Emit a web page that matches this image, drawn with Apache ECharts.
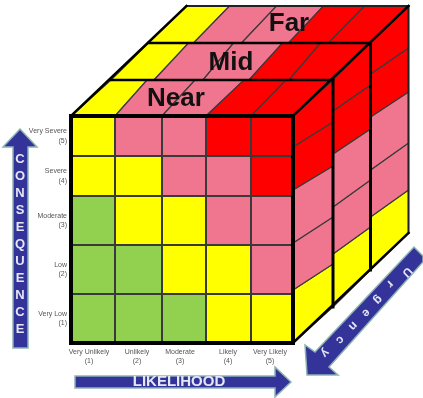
<!DOCTYPE html>
<html>
<head>
<meta charset="utf-8">
<style>html,body{margin:0;padding:0;background:#fff}#chart{width:423px;height:398px}</style>
<script src="https://cdn.jsdelivr.net/npm/echarts@6/dist/echarts.min.js"></script>
</head>
<body>
<div id="chart"></div>
<script>
// Three-layer risk cube: likelihood x consequence x urgency.
const likelihoodLabels = ['Very Unlikely\n(1)', 'Unlikely\n(2)', 'Moderate\n(3)', 'Likely\n(4)', 'Very Likely\n(5)'];
const consequenceLabels = ['Very Low\n(1)', 'Low\n(2)', 'Moderate\n(3)', 'Severe\n(4)', 'Very Severe\n(5)'];
const urgencyLayers = ['Near', 'Mid', 'Far'];

// Risk levels: 0 low, 1 medium, 2 high, 3 extreme.
const frontLevels = [          // rows run from Very Low up to Very Severe
  [0, 0, 0, 1, 1],
  [0, 0, 1, 1, 2],
  [0, 1, 1, 2, 2],
  [1, 1, 2, 2, 3],
  [1, 2, 2, 3, 3]
];
const topLevels = [1, 2, 2, 3, 3];   // Very Severe row, seen along each urgency layer
const sideLevels = [1, 2, 2, 3, 3];  // Very Likely column, seen along each urgency layer

const levelColors = ['#92D050', '#FFFF00', '#F0758F', '#FF0000'];

// Widths of the bands on each face. Every slab tapers a little towards its far end.
const colBands = [44, 47, 44, 45, 42];
const rowBands = [49, 49, 49, 40, 40];
const sideNearBands = [53, 47, 53, 43, 31];
const sideFarBands = [43, 47, 51, 44, 42];
const topNearBands = [[44, 47, 44, 45, 42], [43, 49, 46, 40, 44], [45, 48, 47, 40, 42]];
const topFarBands = [[36, 48, 49, 42, 47], [40, 45, 49, 38, 50], [43, 47, 47, 41, 44]];

const edgesOf = bands => bands.reduce((acc, b) => (acc.push(acc[acc.length - 1] + b), acc), [0]);
const colEdges = edgesOf(colBands);
const rowEdges = edgesOf(rowBands);
const sideNear = edgesOf(sideNearBands);
const sideFar = edgesOf(sideFarBands);
const topNear = topNearBands.map(edgesOf);
const topFar = topFarBands.map(edgesOf);
const xMax = colEdges[colEdges.length - 1];
const yMax = rowEdges[rowEdges.length - 1];

// Where the tick labels sit on each axis.
const likelihoodTicks = [18, 66, 109, 157, 199];
const consequenceTicks = [24.5, 73.5, 122.5, 167, 207];

// Screen offset of each slab boundary away from the front face.
const layerOffsets = [[0, 0], [40, -36], [77.5, -73], [115.5, -110]];
const layerCount = urgencyLayers.length;
const shifted = (p, k) => [p[0] + layerOffsets[k][0], p[1] + layerOffsets[k][1]];

const frontData = [];
frontLevels.forEach((row, r) => row.forEach((lvl, c) => frontData.push([c, r, lvl])));
const topData = [];
const sideData = [];
urgencyLayers.forEach((_, k) => {
  topLevels.forEach((lvl, c) => topData.push([c, k, lvl]));
  sideLevels.forEach((lvl, r) => sideData.push([r, k, lvl]));
});

const cell = (points, lvl) => ({
  type: 'polygon',
  shape: { points },
  style: { fill: levelColors[lvl], stroke: '#3a3a3a', lineWidth: 1.2, lineJoin: 'miter' }
});

function renderFront(params, api) {
  const c = api.value(0), r = api.value(1);
  const pts = [[colEdges[c], rowEdges[r]], [colEdges[c + 1], rowEdges[r]], [colEdges[c + 1], rowEdges[r + 1]], [colEdges[c], rowEdges[r + 1]]]
    .map(p => api.coord(p));
  const shape = cell(pts, api.value(2));
  shape.style.lineWidth = 2;
  return shape;
}

function renderTop(params, api) {
  const c = api.value(0), k = api.value(1);
  const nearA = shifted(api.coord([topNear[k][c], yMax]), k);
  const nearB = shifted(api.coord([topNear[k][c + 1], yMax]), k);
  const farB = shifted(api.coord([topFar[k][c + 1], yMax]), k + 1);
  const farA = shifted(api.coord([topFar[k][c], yMax]), k + 1);
  return cell([nearA, nearB, farB, farA], api.value(2));
}

function renderSide(params, api) {
  const r = api.value(0), k = api.value(1);
  const nearA = shifted(api.coord([xMax, sideNear[r]]), k);
  const farA = shifted(api.coord([xMax, sideFar[r]]), k + 1);
  const farB = shifted(api.coord([xMax, sideFar[r + 1]]), k + 1);
  const nearB = shifted(api.coord([xMax, sideNear[r + 1]]), k);
  return cell([nearA, farA, farB, nearB], api.value(2));
}

function renderFrame(params, api) {
  const lb = api.coord([0, 0]), rb = api.coord([xMax, 0]), rt = api.coord([xMax, yMax]), lt = api.coord([0, yMax]);
  const seg = (p, q, w, color) => ({
    type: 'line',
    shape: { x1: p[0], y1: p[1], x2: q[0], y2: q[1] },
    style: { stroke: color || '#000', lineWidth: w, lineCap: 'square' }
  });
  const children = [];
  for (let k = 1; k <= layerCount; k++) {
    const back = k === layerCount;
    children.push(seg(shifted(lt, k), shifted(rt, k), back ? 2 : 2.5, back ? '#222' : '#000'));
    children.push(seg(shifted(rt, k), shifted(rb, k), back ? 2 : 3, back ? '#222' : '#000'));
  }
  children.push(seg(lt, shifted(lt, layerCount), 2.5));
  children.push(seg(rt, shifted(rt, layerCount), 2.5));
  children.push(seg(rb, shifted(rb, layerCount), 2.5));
  children.push({
    type: 'rect',
    shape: { x: lt[0], y: lt[1], width: rt[0] - lt[0], height: lb[1] - lt[1] },
    style: { fill: 'none', stroke: '#000', lineWidth: 4 }
  });
  return { type: 'group', children };
}

// Block arrows that name the three axes of the cube.
const arrowFill = '#333399';
const arrowEdge = '#8FB3B3';
const arrowText = '#E4E7F4';
const arrow = points => ({
  type: 'polygon',
  shape: { points },
  style: { fill: arrowFill, stroke: arrowEdge, lineWidth: 1.5 },
  z: 20
});

const urgencyWord = 'Urgency';
const urgencyAnchors = [[407, 272], [390, 284], [378, 300], [366, 313], [353, 326], [340, 340], [325, 353]];

const graphics = [
  arrow([[20, 129], [37, 147], [28, 147], [28, 348], [13, 348], [13, 147], [3, 147]]),
  { type: 'text', x: 20, y: 244, z: 21, style: {
    text: 'CONSEQUENCE'.split('').join('\n'), fill: arrowText, font: 'bold 13px "Liberation Sans"',
    lineHeight: 17, align: 'center', verticalAlign: 'middle'
  } },
  arrow([[75, 376], [275, 376], [275, 367], [291, 382], [275, 397], [275, 388], [75, 388]]),
  { type: 'text', x: 179, y: 382, z: 21, style: {
    text: 'LIKELIHOOD', fill: arrowText, font: 'bold 15px "Liberation Sans"',
    align: 'center', verticalAlign: 'middle'
  } },
  arrow([[307, 375], [305, 345], [315, 352], [414, 247], [423, 256], [423, 262], [329, 367], [338, 375]])
];
urgencyWord.split('').forEach((ch, i) => {
  graphics.push({
    type: 'text', x: urgencyAnchors[i][0], y: urgencyAnchors[i][1], rotation: -Math.PI * 0.75, z: 21,
    style: { text: ch, fill: arrowText, font: 'bold 12px "Liberation Sans"', align: 'center', verticalAlign: 'middle' }
  });
});
const layerTitlePositions = [[176, 99], [231, 63], [289, 24]];
urgencyLayers.forEach((name, k) => {
  graphics.push({
    type: 'text', x: layerTitlePositions[k][0], y: layerTitlePositions[k][1], z: 21,
    style: { text: name, fill: '#111', font: 'bold 26px "Liberation Sans"', align: 'center', verticalAlign: 'middle' }
  });
});

const chart = echarts.init(document.getElementById('chart'), null, { renderer: 'canvas' });
chart.setOption({
  animation: false,
  backgroundColor: '#fff',
  grid: { left: 71, right: 130, top: 116, bottom: 55 },
  xAxis: {
    type: 'value', min: 0, max: xMax,
    splitLine: { show: false }, axisLine: { show: false }, axisTick: { show: false },
    axisLabel: {
      customValues: likelihoodTicks,
      formatter: v => likelihoodLabels[likelihoodTicks.indexOf(v)],
      margin: 4, color: '#555', fontSize: 7, lineHeight: 9.5,
      fontFamily: 'Liberation Sans'
    }
  },
  yAxis: {
    type: 'value', min: 0, max: yMax,
    splitLine: { show: false }, axisLine: { show: false }, axisTick: { show: false },
    axisLabel: {
      customValues: consequenceTicks,
      formatter: v => consequenceLabels[consequenceTicks.indexOf(v)],
      margin: 4, color: '#555', fontSize: 7, lineHeight: 9.5,
      fontFamily: 'Liberation Sans'
    }
  },
  graphic: graphics,
  series: [
    { type: 'custom', name: 'Top', coordinateSystem: 'cartesian2d', data: topData, renderItem: renderTop, z: 2, silent: true },
    { type: 'custom', name: 'Side', coordinateSystem: 'cartesian2d', data: sideData, renderItem: renderSide, z: 2, silent: true },
    { type: 'custom', name: 'Front', coordinateSystem: 'cartesian2d', data: frontData, renderItem: renderFront, z: 3, silent: true },
    { type: 'custom', name: 'Frame', coordinateSystem: 'cartesian2d', data: [[0, 0]], renderItem: renderFrame, z: 4, silent: true }
  ]
});
</script>
</body>
</html>
